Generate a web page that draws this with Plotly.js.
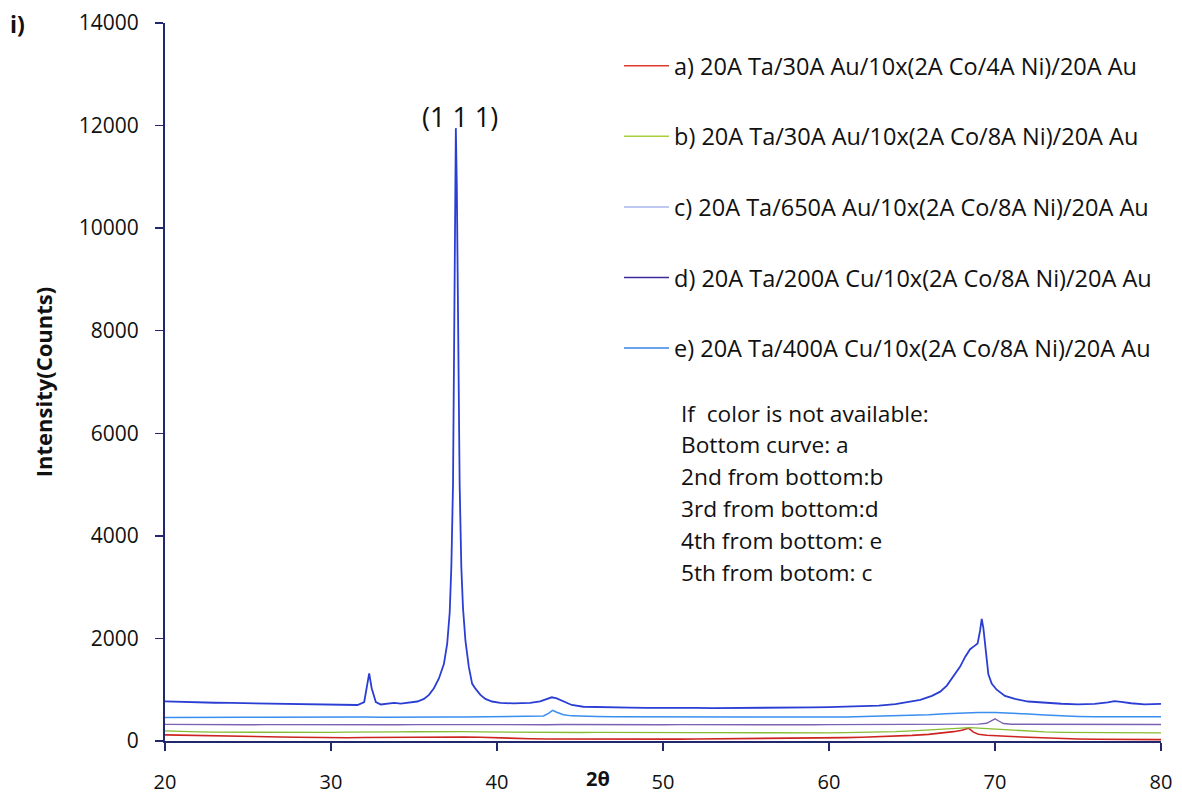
<!DOCTYPE html>
<html>
<head>
<meta charset="utf-8">
<script src="https://cdn.plot.ly/plotly-3.0.1.min.js"></script>
<style>
  html, body { margin: 0; padding: 0; background: #fff; }
  #chart { width: 1182px; height: 795px; }
</style>
</head>
<body>
<div id="chart"></div>
<script>
// XRD scans, intensity (counts) against 2θ (degrees)

// a) 20A Ta/30A Au/10x(2A Co/4A Ni)/20A Au
const twoTheta_a = [20,21,22,23,24,25,26,27,28,29,30,31,32,33,34,35,36,37,38,39,40,41,42,43,44,45,46,47,48,49,50,51,52,53,54,55,56,57,58,59,60,61,62,63,64,65,66,67,67.5,68,68.4,68.7,69,69.5,70,71,72,73,74,75,76,77,78,79,80];
const counts_a = [120,112,106,100,97,92,85,78,72,66,62,64,68,72,76,80,84,82,78,72,58,48,44,40,38,36,38,35,34,36,38,36,38,40,42,40,44,46,48,52,58,66,74,84,96,110,130,160,182,208,250,172,130,112,100,88,74,58,46,40,34,30,28,26,26];

// b) 20A Ta/30A Au/10x(2A Co/8A Ni)/20A Au
const twoTheta_b = [20,21,22,23,24,25,26,27,28,29,30,31,32,33,34,35,36,37,38,39,40,41,42,43,44,45,46,47,48,49,50,51,52,53,54,55,56,57,58,59,60,61,62,63,64,65,66,67,68,68.5,69,70,71,72,73,74,75,76,77,78,79,80];
const counts_b = [196,182,176,172,170,168,170,167,168,170,168,172,170,172,176,180,184,186,182,176,172,170,168,170,168,166,168,165,164,166,164,162,164,162,160,162,160,158,160,158,160,162,166,172,182,196,212,232,254,262,250,230,208,190,178,170,166,164,162,160,160,158];

// c) 20A Ta/650A Au/10x(2A Co/8A Ni)/20A Au
const twoTheta_c = [20,21,22,23,24,25,26,27,28,29,30,31,31.6,32.0,32.15,32.3,32.45,32.7,33,33.5,33.8,34.2,34.8,35.2,35.6,35.9,36.2,36.5,36.8,37.0,37.15,37.25,37.35,37.42,37.48,37.52,37.58,37.65,37.75,37.85,37.95,38.1,38.3,38.5,38.7,39.0,39.3,39.7,40.2,41,42,42.6,43.0,43.3,43.6,44.0,44.5,45.2,46,47,48,49,50,51,52,53,54,55,56,57,58,59,60,61,62,63,64,64.8,65.5,66.2,66.7,67.1,67.5,67.9,68.2,68.5,68.75,68.95,69.1,69.2,69.3,69.45,69.6,69.8,70.1,70.6,71.2,72,73,74,75,76,76.8,77.2,77.6,78.2,79,80];
const counts_c = [772,760,754,746,742,736,734,726,722,714,706,696,702,760,1040,1320,1030,760,712,722,742,730,748,770,820,900,1030,1220,1500,1900,2500,3400,5000,7500,10500,11950,10800,7800,5000,3400,2600,1950,1450,1120,1020,900,820,770,745,732,742,772,822,852,832,772,702,668,660,664,652,646,650,642,646,640,645,640,646,649,652,656,660,666,672,690,720,756,800,880,962,1080,1260,1450,1640,1790,1850,1900,2150,2380,2200,1750,1300,1120,1000,880,820,770,746,726,716,724,752,776,764,736,716,722];

// d) 20A Ta/200A Cu/10x(2A Co/8A Ni)/20A Au
const twoTheta_d = [20,21,22,23,24,25,26,27,28,29,30,31,32,33,34,35,36,37,38,39,40,41,42,43,44,45,46,47,48,49,50,51,52,53,54,55,56,57,58,59,60,61,62,63,64,65,66,67,68,69,69.5,69.8,70,70.2,70.5,71,72,73,74,75,76,77,78,79,80];
const counts_d = [324,320,318,322,319,316,320,318,321,317,320,318,322,319,316,320,318,321,318,322,319,317,320,318,322,319,316,320,318,321,317,320,318,322,319,316,320,318,321,317,320,322,319,323,321,324,322,326,328,330,345,400,432,395,340,326,324,322,325,321,323,320,322,319,321];

// e) 20A Ta/400A Cu/10x(2A Co/8A Ni)/20A Au
const twoTheta_e = [20,21,22,23,24,25,26,27,28,29,30,31,32,33,34,35,36,37,38,39,40,41,42,42.8,43.1,43.35,43.6,44,44.5,45,46,47,48,49,50,51,52,53,54,55,56,57,58,59,60,61,62,63,64,65,66,67,68,69,70,71,72,73,74,75,76,77,78,79,80];
const counts_e = [458,462,460,464,461,465,463,466,462,467,464,466,468,465,469,466,470,467,469,471,468,470,474,488,540,596,562,512,490,482,476,472,470,468,466,468,465,467,464,466,468,465,467,469,468,470,476,482,490,500,514,530,545,555,558,546,526,506,490,480,474,472,470,471,472];

const seriesLabels = [
  "a) 20A Ta/30A Au/10x(2A Co/4A Ni)/20A Au",
  "b) 20A Ta/30A Au/10x(2A Co/8A Ni)/20A Au",
  "c) 20A Ta/650A Au/10x(2A Co/8A Ni)/20A Au",
  "d) 20A Ta/200A Cu/10x(2A Co/8A Ni)/20A Au",
  "e) 20A Ta/400A Cu/10x(2A Co/8A Ni)/20A Au"
];
const curveColors = ["#cc2420", "#86bd34", "#2b3ed4", "#7d62b4", "#3a8ef0"];
const keyColors = ["#e03a2a", "#a6cf3a", "#a9b6ee", "#3b2b9c", "#3a86e8"];

const noteLines = [
  "If  color is not available:",
  "Bottom curve: a",
  "2nd from bottom:b",
  "3rd from bottom:d",
  "4th from bottom: e",
  "5th from botom: c"
];

const xTicks = [20, 30, 40, 50, 60, 70, 80];
const yTicks = [0, 2000, 4000, 6000, 8000, 10000, 12000, 14000];

const xs = [twoTheta_a, twoTheta_b, twoTheta_c, twoTheta_d, twoTheta_e];
const ys = [counts_a, counts_b, counts_c, counts_d, counts_e];
const widths = [1.6, 1.3, 1.8, 1.4, 1.5];

const traces = [];
// measured curves, drawn bottom to top
for (let i = 0; i < 5; i++) {
  traces.push({
    type: "scatter", mode: "lines",
    x: xs[i], y: ys[i],
    line: { color: curveColors[i], width: widths[i] },
    showlegend: false, hoverinfo: "x+y"
  });
}
// key entries
for (let i = 0; i < 5; i++) {
  traces.push({
    type: "scatter", mode: "lines",
    x: [null], y: [null],
    name: seriesLabels[i],
    legendgroup: "g" + i,
    line: { color: keyColors[i], width: 1.5 },
    showlegend: true
  });
}

const sans = "Open Sans, sans-serif";
const L = 165, R = 21, T = 23, B = 54;
const plotW = 1182 - L - R, plotH = 795 - T - B;

const annotations = [];
noteLines.forEach((t, k) => {
  annotations.push({
    xref: "paper", yref: "paper",
    x: (679 - L) / plotW, y: (741 - (413 + k * 31.8)) / plotH,
    xanchor: "left", yanchor: "middle",
    text: t, showarrow: false,
    font: { family: sans, size: 22.7, color: "#111" }
  });
});
annotations.push({
  xref: "x", yref: "y", x: 37.8, y: 12180,
  text: "(1 1 1)", showarrow: false,
  font: { family: sans, size: 27, color: "#111" }
});
annotations.push({
  xref: "paper", yref: "paper", x: (598 - L) / plotW, y: (741 - 778) / plotH,
  xanchor: "center", yanchor: "middle",
  text: "<b>2θ</b>", showarrow: false,
  font: { family: sans, size: 20, color: "#111" }
});
annotations.push({
  xref: "paper", yref: "paper", x: (17 - L) / plotW, y: (741 - 24) / plotH,
  xanchor: "center", yanchor: "middle",
  text: "<b>i)</b>", showarrow: false,
  font: { family: sans, size: 23, color: "#111" }
});

const axisColor = "#22286e";

const layout = {
  width: 1182, height: 795,
  margin: { l: L, r: R, t: T, b: B, pad: 0 },
  paper_bgcolor: "#fff", plot_bgcolor: "#fff",
  font: { family: sans, size: 21, color: "#111" },
  showlegend: true,
  legend: {
    x: (619 - L) / plotW, y: (741 - 44) / plotH,
    xanchor: "left", yanchor: "top",
    bgcolor: "rgba(0,0,0,0)",
    font: { family: sans, size: 23.5, color: "#111" },
    itemwidth: 45,
    tracegroupgap: 37,
    traceorder: "grouped"
  },
  xaxis: {
    range: [20, 80], tickvals: xTicks, ticktext: xTicks.map(String),
    showgrid: false, zeroline: false,
    showline: true, linecolor: axisColor, linewidth: 2,
    ticks: "outside", ticklen: 8, tickwidth: 2, tickcolor: axisColor,
    ticklabelstandoff: 14,
    tickfont: { family: sans, size: 20, color: "#111" }
  },
  yaxis: {
    range: [0, 14000], tickvals: yTicks, ticktext: yTicks.map(String),
    showgrid: false, zeroline: false,
    showline: true, linecolor: axisColor, linewidth: 2,
    ticks: "outside", ticklen: 8, tickwidth: 1.5, tickcolor: axisColor,
    ticklabelstandoff: 12,
    tickfont: { family: sans, size: 21, color: "#111" },
    title: {
      text: "<b>Intensity(Counts)</b>", standoff: 20,
      font: { family: sans, size: 22, color: "#111" }
    }
  },
  annotations: annotations
};

Plotly.newPlot("chart", traces, layout, { displayModeBar: false, staticPlot: true });
</script>
</body>
</html>
